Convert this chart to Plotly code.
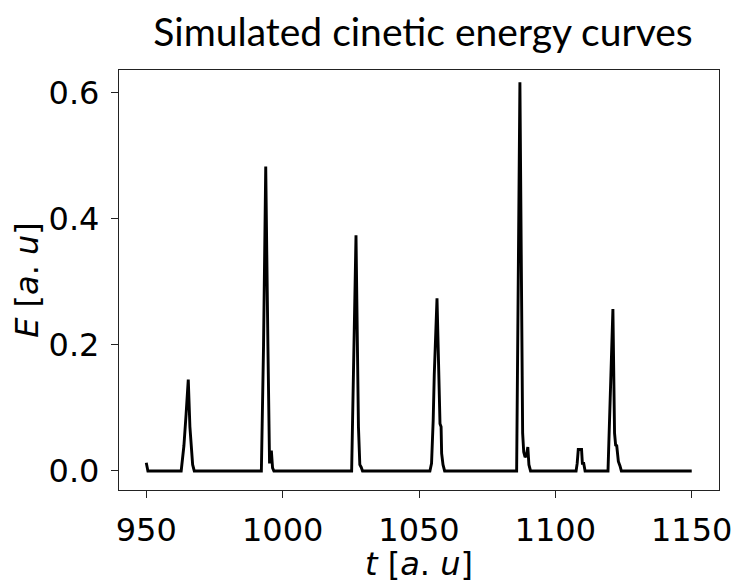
import plotly.graph_objects as go

# Time [a.u] and kinetic energy [a.u]
t = [950, 950.6, 962.8, 963.8, 964.6, 965.4, 966.0, 966.4, 967.0, 967.6,
     992.2, 993.0, 993.8, 994.6, 995.2, 995.5, 995.9, 996.3, 996.8,
     1025.3, 1026.9, 1027.8, 1028.3, 1028.8, 1029.3,
     1054.0, 1054.6, 1055.2, 1055.6, 1056.6, 1057.3, 1057.7, 1058.1, 1058.3, 1058.8, 1059.4,
     1085.8, 1087.0, 1088.0, 1088.4, 1088.9, 1089.4, 1089.9, 1090.3, 1090.9,
     1107.6, 1108.0, 1108.4, 1109.6, 1109.9, 1110.4, 1110.9,
     1119.3, 1120.4, 1121.1, 1121.7, 1122.1, 1122.5, 1123.1, 1123.7, 1124.2,
     1150]
E = [0.013, 0.0, 0.0, 0.04, 0.09, 0.145, 0.07, 0.038, 0.01, 0.0,
     0.0, 0.2, 0.483, 0.2, 0.012, 0.03, 0.03, 0.005, 0.0,
     0.0, 0.374, 0.07, 0.01, 0.006, 0.0,
     0.0, 0.012, 0.08, 0.153, 0.274, 0.11, 0.075, 0.07, 0.028, 0.01, 0.0,
     0.0, 0.617, 0.06, 0.03, 0.022, 0.025, 0.038, 0.01, 0.0,
     0.0, 0.012, 0.034, 0.034, 0.012, 0.012, 0.0,
     0.0, 0.14, 0.257, 0.06, 0.041, 0.04, 0.015, 0.008, 0.0,
     0.0]

x_ticks = [950, 1000, 1050, 1100, 1150]
y_ticks = [0.0, 0.2, 0.4, 0.6]
y_tick_labels = ["0.0", "0.2", "0.4", "0.6"]

fig = go.Figure()
fig.add_trace(go.Scatter(x=t, y=E, mode="lines",
                         line=dict(color="black", width=2.9),
                         showlegend=False))

tick_font = dict(family="DejaVu Sans", size=32, color="black")
axis_common = dict(showline=True, linecolor="#222222", linewidth=1.3, mirror=True,
                   ticks="outside", ticklen=7, tickwidth=1.3, tickcolor="#222222",
                   showgrid=False, zeroline=False, tickfont=tick_font)

fig.update_layout(
    width=744, height=583,
    margin=dict(l=119, r=17, t=70, b=85),
    paper_bgcolor="white", plot_bgcolor="white",
    title=dict(text="Simulated cinetic energy curves",
               font=dict(family="Lato", size=39, color="black"),
               x=0.5686, xanchor="center", y=0.945, yanchor="middle"),
    xaxis=dict(range=[940, 1160], tickvals=x_ticks,
               ticklabelstandoff=4,
               title=dict(text="<i>t</i> [<i>a</i>. <i>u</i>]",
                          font=dict(family="DejaVu Sans", size=32, color="black"),
                          standoff=0),
               **axis_common),
    yaxis=dict(range=[-0.0302, 0.6363], tickvals=y_ticks, ticktext=y_tick_labels,
               ticklabelstandoff=5,
               title=dict(text="<i>E</i> [<i>a</i>. <i>u</i>]",
                          font=dict(family="DejaVu Sans", size=32, color="black"),
                          standoff=0),
               **axis_common),
)

fig.write_html("out.html")
